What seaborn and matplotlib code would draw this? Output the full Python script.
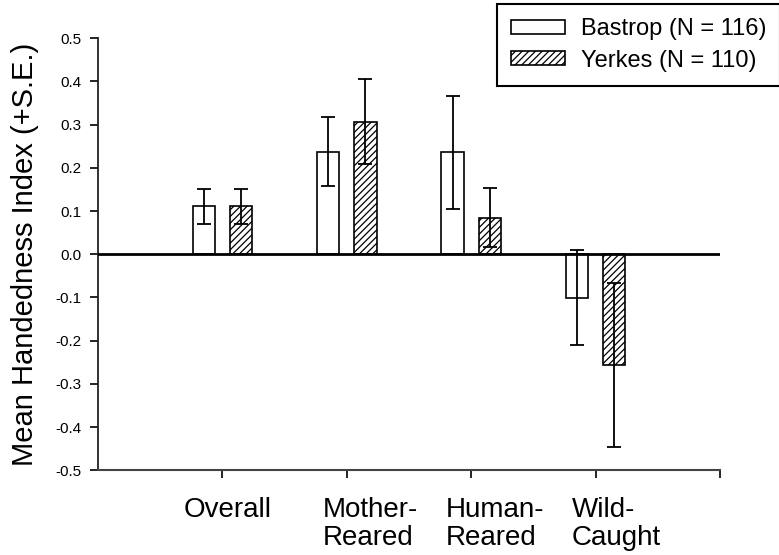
import matplotlib.pyplot as plt
import matplotlib.transforms as mtransforms
import pandas as pd
import seaborn as sns

# Values
groups = ["Overall", "Mother-\nReared", "Human-\nReared", "Wild-\nCaught"]
colonies = ["Bastrop (N = 116)", "Yerkes (N = 110)"]
bastrop_mean = [0.111, 0.237, 0.236, -0.101]
bastrop_se = [0.040, 0.080, 0.130, 0.110]
yerkes_mean = [0.111, 0.307, 0.085, -0.256]
yerkes_se = [0.040, 0.098, 0.068, 0.190]
y_ticks = [0.5, 0.4, 0.3, 0.2, 0.1, 0.0, -0.1, -0.2, -0.3, -0.4, -0.5]

df = pd.DataFrame({
    "group": groups * 2,
    "colony": [colonies[0]] * 4 + [colonies[1]] * 4,
    "mean": bastrop_mean + yerkes_mean,
    "se": bastrop_se + yerkes_se,
})

sns.set_theme(style="ticks")
plt.rcParams['font.family'] = ['Liberation Sans', 'DejaVu Sans']
plt.rcParams['text.color'] = 'black'
plt.rcParams['axes.labelcolor'] = 'black'
plt.rcParams['hatch.color'] = 'black'
plt.rcParams['hatch.linewidth'] = 0.9

fig = plt.figure(figsize=(7.79, 5.55), dpi=100)
ax = fig.add_axes([98 / 779, 84.7 / 555, 622 / 779, 432 / 555])

sns.barplot(data=df, x="group", y="mean", hue="colony", order=groups,
            hue_order=colonies, palette=["white", "white"], edgecolor="black",
            linewidth=1.2, width=0.6, gap=0.4, errorbar=None, legend=False,
            ax=ax, zorder=2)

for patch in ax.containers[1].patches:
    patch.set_hatch("/////")

# error bars centred on the drawn bars
for cont, colony in zip(ax.containers, colonies):
    sub = df[df["colony"] == colony]
    xs = [p.get_x() + p.get_width() / 2 for p in cont.patches]
    ax.errorbar(xs, sub["mean"], yerr=sub["se"], fmt="none", ecolor="black",
                elinewidth=1.3, capsize=4.7, capthick=1.3, zorder=4)

ax.axhline(0, color="black", lw=2, zorder=3)

ax.set_xlim(-1, 4)
ax.set_ylim(-0.5, 0.5)
ax.set_yticks(y_ticks)
ax.set_yticklabels([f"{v:.1f}" for v in y_ticks], fontsize=11)
ax.set_xticks(range(5))
ax.set_xticklabels([])

# category labels sit a little right of their ticks, left-aligned lines
base = mtransforms.blended_transform_factory(ax.transData, ax.transAxes)
for i, (name, dx) in enumerate(zip(groups, [-39, -24, -25, -24])):
    tr = base + mtransforms.ScaledTranslation(dx / 100, -27 / 100, fig.dpi_scale_trans)
    ax.text(i, 0, name, transform=tr, ha="left", va="top", fontsize=20,
            multialignment="left", linespacing=1.1, color="black")

ax.tick_params(axis="y", length=6, width=1.2, pad=6, colors="black")
ax.tick_params(axis="x", length=6, width=1.2, colors="black")
ax.set_xlabel("")
ax.set_ylabel("Mean Handedness Index (+S.E.)", fontsize=21, labelpad=12,
              color="black")

sns.despine(ax=ax)
ax.spines["left"].set_color("#222222")
ax.spines["bottom"].set_color("#444444")
ax.spines["left"].set_linewidth(1.3)
ax.spines["bottom"].set_linewidth(1.5)

leg = ax.legend(ax.containers[:2], colonies, loc="upper left",
                bbox_to_anchor=(497 / 779, 1 - 4 / 555),
                bbox_transform=fig.transFigure, fontsize=17,
                handlelength=2.3, handleheight=0.55, handletextpad=0.65,
                borderpad=0.6, labelspacing=0.4, fancybox=False,
                framealpha=1, edgecolor="black", borderaxespad=0,
                labelcolor="black")
leg.get_frame().set_linewidth(1.5)

fig.savefig("out.png", dpi=100)
